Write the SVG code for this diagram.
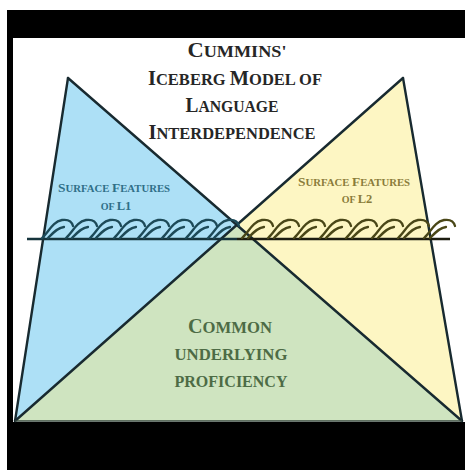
<svg xmlns="http://www.w3.org/2000/svg" width="465" height="470" viewBox="0 0 465 470">
<style>
.t{font-family:"Liberation Serif","DejaVu Serif",serif;font-weight:bold;text-anchor:middle}
.edge{stroke:#182a30;stroke-width:2.4;fill:none;stroke-linecap:round}
.wl{stroke:#1d4a58;stroke-width:2.3;fill:none;stroke-linecap:round}
.wr{stroke:#4a4718;stroke-width:2.3;fill:none;stroke-linecap:round}
.b{font-size:21px}.s{font-size:17px}
.lb{font-size:12.5px}.ls{font-size:10px}
.cb{font-size:20px}.cs{font-size:16.5px}
</style>
<defs>
<path id="wave" d="M0,238 C7,232 10,222 20,220 C27,219 30,222 31,226 M6,238 C11,233 15,228 22,227"/>
</defs>
<rect x="0" y="0" width="465" height="470" fill="#ffffff"/>
<g id="frame" fill="#000000">
<rect x="7" y="10" width="458" height="28"/>
<rect x="7" y="10" width="6" height="460"/>
<rect x="7" y="422" width="458" height="48"/>
</g>
<g id="l1-region"><polygon points="68,78 15,421 237,224" fill="#ade0f6"/></g>
<g id="l2-region"><polygon points="403,78 462,421 237,224" fill="#fdf6c3"/></g>
<g id="cup-region"><polygon points="15,421 462,421 237,224" fill="#cfe4c0"/></g>
<g id="connectors">
<line class="edge" x1="68" y1="78" x2="15" y2="421"/>
<line class="edge" x1="403" y1="78" x2="462" y2="421"/>
<line class="edge" x1="68" y1="78" x2="462" y2="421"/>
<line class="edge" x1="403" y1="78" x2="15" y2="421"/>
<line x1="15" y1="421" x2="462" y2="421" stroke="#3a4a40" stroke-width="1.5"/>
</g>
<g id="waterline">
<line x1="27" y1="239" x2="237" y2="239" stroke="#16343c" stroke-width="2.4"/>
<line x1="237" y1="239" x2="450" y2="239" stroke="#1c1c10" stroke-width="2.4"/>
<g class="wl">
<use href="#wave" x="42"/><use href="#wave" x="66"/><use href="#wave" x="90"/><use href="#wave" x="114"/>
<use href="#wave" x="138"/><use href="#wave" x="162"/><use href="#wave" x="186"/><use href="#wave" x="208"/>
</g>
<g class="wr">
<use href="#wave" x="242"/><use href="#wave" x="268"/><use href="#wave" x="294"/><use href="#wave" x="320"/>
<use href="#wave" x="346"/><use href="#wave" x="372"/><use href="#wave" x="398"/><use href="#wave" x="424"/>
</g>
</g>
<g id="title" class="t" fill="#262626">
<text x="237" y="57" textLength="99" lengthAdjust="spacingAndGlyphs"><tspan class="b">C</tspan><tspan class="s">UMMINS'</tspan></text>
<text x="235" y="85" textLength="174" lengthAdjust="spacingAndGlyphs"><tspan class="b">I</tspan><tspan class="s">CEBERG </tspan><tspan class="b">M</tspan><tspan class="s">ODEL OF</tspan></text>
<text x="232" y="112" textLength="93" lengthAdjust="spacingAndGlyphs"><tspan class="b">L</tspan><tspan class="s">ANGUAGE</tspan></text>
<text x="232" y="139" textLength="167" lengthAdjust="spacingAndGlyphs"><tspan class="b">I</tspan><tspan class="s">NTERDEPENDENCE</tspan></text>
</g>
<g id="l1-label" class="t" fill="#2f6f88">
<text x="114" y="192" textLength="112" lengthAdjust="spacingAndGlyphs"><tspan class="lb">S</tspan><tspan class="ls">URFACE </tspan><tspan class="lb">F</tspan><tspan class="ls">EATURES</tspan></text>
<text x="116" y="210"><tspan class="ls">OF </tspan><tspan class="lb">L1</tspan></text>
</g>
<g id="l2-label" class="t" fill="#8a7c3a">
<text x="354" y="186" textLength="112" lengthAdjust="spacingAndGlyphs"><tspan class="lb">S</tspan><tspan class="ls">URFACE </tspan><tspan class="lb">F</tspan><tspan class="ls">EATURES</tspan></text>
<text x="357" y="203"><tspan class="ls">OF </tspan><tspan class="lb">L2</tspan></text>
</g>
<g id="cup-label" class="t" fill="#4d6b45">
<text x="230" y="333" textLength="84" lengthAdjust="spacingAndGlyphs"><tspan class="cb">C</tspan><tspan class="cs">OMMON</tspan></text>
<text x="231" y="360" textLength="113" lengthAdjust="spacingAndGlyphs" class="cs">UNDERLYING</text>
<text x="231" y="387" textLength="113" lengthAdjust="spacingAndGlyphs" class="cs">PROFICIENCY</text>
</g>
</svg>
